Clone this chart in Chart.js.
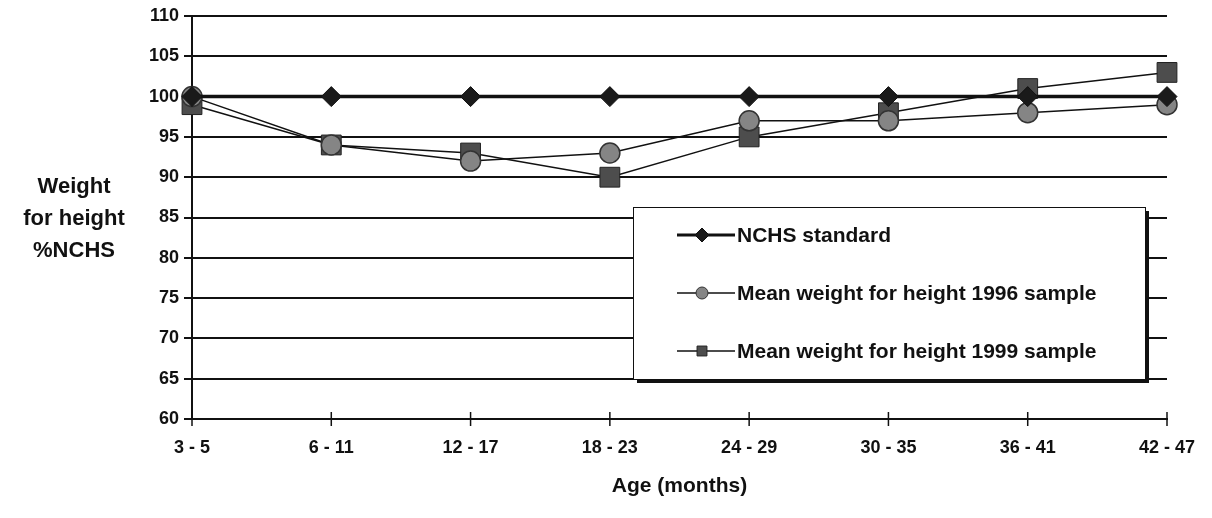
<!DOCTYPE html>
<html>
<head>
<meta charset="utf-8">
<script src="https://cdn.jsdelivr.net/npm/chart.js@4"></script>
<style>
  body { margin: 0; background: #fff; }
  #wrap { width: 1212px; height: 518px; position: relative; }
</style>
</head>
<body>
<div id="wrap"><canvas id="chart" width="1212" height="518"></canvas></div>
<script>
const ageGroups = ['3 - 5', '6 - 11', '12 - 17', '18 - 23', '24 - 29', '30 - 35', '36 - 41', '42 - 47'];
const nchsStandard = [100, 100, 100, 100, 100, 100, 100, 100];
const mean1996 = [100, 94, 92, 93, 97, 97, 98, 99];
const mean1999 = [99, 94, 93, 90, 95, 98, 101, 103];
const seriesNames = ['NCHS standard', 'Mean weight for height 1996 sample', 'Mean weight for height 1999 sample'];
const yTitleLines = ['Weight', 'for height', '%NCHS'];
const xTitle = 'Age (months)';

const FONT = '"Liberation Sans", Arial, sans-serif';

// y title drawn flat like the original, plus the boxed legend inside the plot
const extras = {
    id: 'extras',
    afterDraw(chart) {
        const ctx = chart.ctx;
        const area = chart.chartArea;
        ctx.save();
        ctx.fillStyle = '#111';
        ctx.font = 'bold 22px ' + FONT;
        ctx.textAlign = 'center';
        ctx.textBaseline = 'middle';
        yTitleLines.forEach((line, i) => {
            ctx.fillText(line, 74, 187 + i * 32);
        });

        // legend box
        const bx = area.left + 441, by = area.top + 191, bw = 512, bh = 172;
        ctx.fillStyle = '#111';
        ctx.fillRect(bx + 4, by + 4, bw, bh);
        ctx.fillStyle = '#fff';
        ctx.fillRect(bx, by, bw, bh);
        ctx.strokeStyle = '#111';
        ctx.lineWidth = 1;
        ctx.strokeRect(bx + 0.5, by + 0.5, bw, bh);

        ctx.font = 'bold 21px ' + FONT;
        ctx.textAlign = 'left';
        const markR = [7, 6, 7];
        chart.data.datasets.forEach((ds, i) => {
            const ly = by + 28 + i * 58;
            const lx = bx + 44;
            ctx.strokeStyle = '#111';
            ctx.lineWidth = i === 0 ? 3 : 1.5;
            ctx.beginPath();
            ctx.moveTo(lx, ly);
            ctx.lineTo(lx + 58, ly);
            ctx.stroke();
            ctx.fillStyle = ds.pointBackgroundColor;
            ctx.strokeStyle = ds.pointBorderColor;
            ctx.lineWidth = 1;
            Chart.helpers.drawPoint(ctx, { pointStyle: ds.pointStyle, radius: markR[i], rotation: 0, borderWidth: 1 }, lx + 25, ly);
            ctx.fillStyle = '#111';
            ctx.fillText(ds.label, lx + 60, ly + 1);
        });

        // small tick marks crossing the x axis
        const xs = chart.scales.x;
        ctx.strokeStyle = '#111';
        ctx.lineWidth = 1.5;
        ageGroups.forEach((g, i) => {
            const px = xs.getPixelForValue(i);
            ctx.beginPath();
            ctx.moveTo(px, area.bottom - 7);
            ctx.lineTo(px, area.bottom + 7);
            ctx.stroke();
        });
        ctx.restore();
    }
};

new Chart(document.getElementById('chart'), {
    type: 'line',
    data: {
        labels: ageGroups,
        datasets: [
            {
                label: seriesNames[0],
                data: nchsStandard,
                borderColor: '#111',
                borderWidth: 3.5,
                pointStyle: 'rectRot',
                pointRadius: 10,
                pointBackgroundColor: '#1a1a1a',
                pointBorderColor: '#111',
                pointBorderWidth: 1
            },
            {
                label: seriesNames[1],
                data: mean1996,
                borderColor: '#111',
                borderWidth: 1.5,
                pointStyle: 'circle',
                pointRadius: 10,
                pointBackgroundColor: '#858585',
                pointBorderColor: '#333',
                pointBorderWidth: 1.5
            },
            {
                label: seriesNames[2],
                data: mean1999,
                borderColor: '#111',
                borderWidth: 1.5,
                pointStyle: 'rect',
                pointRadius: 14,
                pointBackgroundColor: '#4d4d4d',
                pointBorderColor: '#222',
                pointBorderWidth: 1
            }
        ]
    },
    options: {
        responsive: false,
        animation: false,
        layout: { padding: { left: 0, right: 45, top: 16, bottom: 0 } },
        plugins: {
            legend: { display: false },
            tooltip: { enabled: false }
        },
        scales: {
            x: {
                offset: false,
                grid: { display: false, drawOnChartArea: false },
                border: { display: true, color: '#111', width: 2 },
                ticks: {
                    color: '#111',
                    font: { family: FONT, size: 18, weight: 'bold' },
                    padding: 10,
                    maxRotation: 0,
                    autoSkip: false
                },
                title: {
                    display: true,
                    text: xTitle,
                    color: '#111',
                    font: { family: FONT, size: 21, weight: 'bold' },
                    padding: { top: 10, bottom: 19 }
                },
                afterFit(scale) { scale.height = 99; }
            },
            y: {
                min: 60,
                max: 110,
                ticks: {
                    stepSize: 5,
                    color: '#111',
                    font: { family: FONT, size: 18, weight: 'bold' },
                    padding: 5
                },
                grid: {
                    color: '#111',
                    lineWidth: 2,
                    drawTicks: true,
                    tickLength: 8
                },
                border: { display: true, color: '#111', width: 2 },
                afterFit(scale) { scale.width = 192; }
            }
        }
    },
    plugins: [extras]
});
</script>
</body>
</html>
